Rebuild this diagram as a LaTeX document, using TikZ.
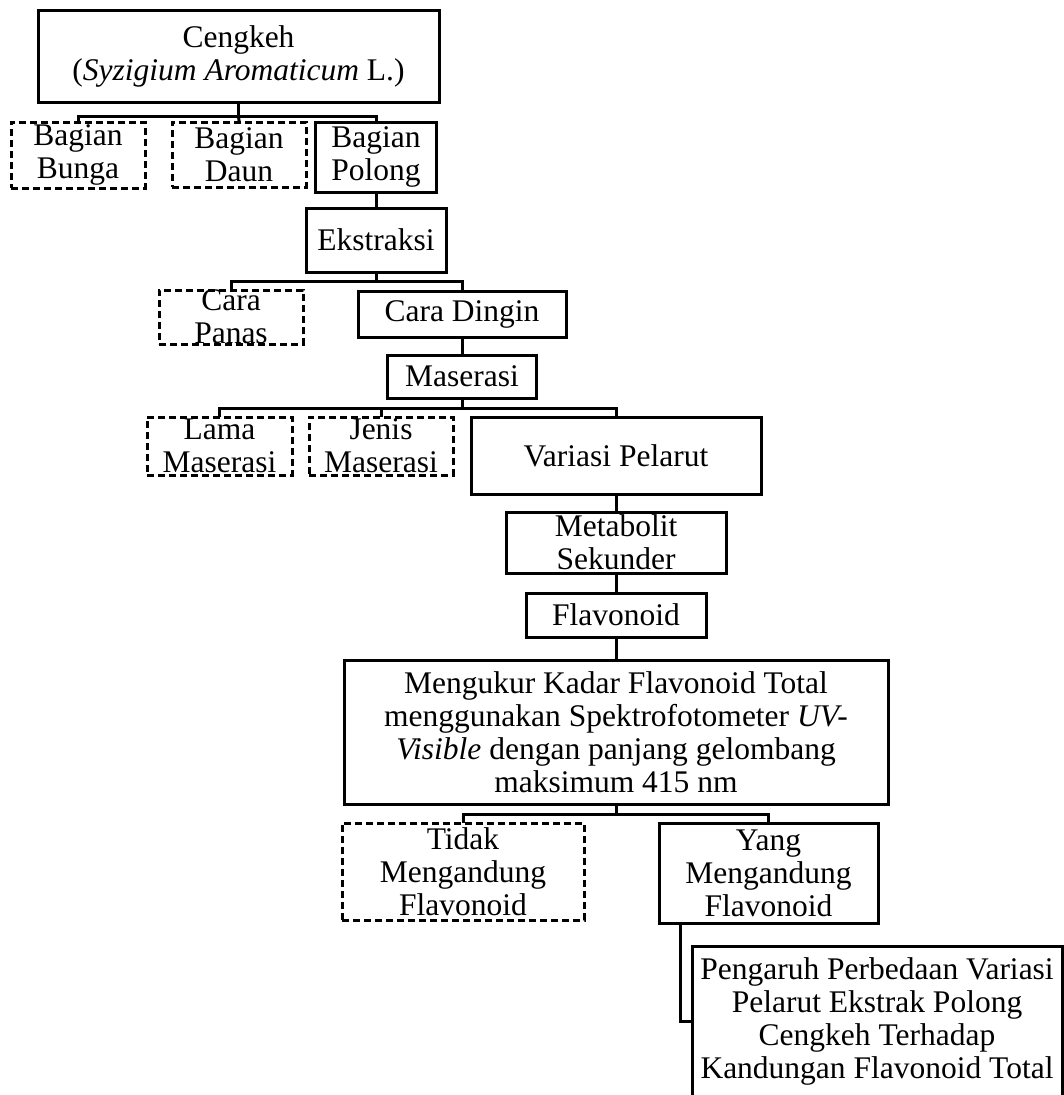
\documentclass[tikz,border=0pt]{standalone}
\usepackage{fontspec}
\setmainfont{Liberation Serif}
\usetikzlibrary{calc}

\tikzset{
  box/.style 2 args={draw, line width=3pt, inner sep=0pt, minimum width=#1pt, minimum height=#2pt},
  dbox/.style 2 args={box={#1}{#2}, dash pattern=on 7pt off 4pt},
  txt/.style={font=\fontsize{31.5}{33}\selectfont, align=center, inner sep=0pt},
  link/.style={line width=3pt, line cap=rect},
}

\begin{document}
\begin{tikzpicture}[x=1pt,y=-1pt]
\useasboundingbox (0,0) rectangle (1064,1095);
\clip (0,0) rectangle (1064,1095);
% boxes
\node[box={401}{92}, label={[txt]center:{Cengkeh\\(\textit{Syzigium Aromaticum} L.)}}] (ceng) at (238.5,56) {};
\node[dbox={134}{66}, label={[txt]center:{Bagian\\Bunga}}] (bunga) at (78,155) {};
\node[dbox={134}{65}, label={[txt]center:{Bagian\\Daun}}] (daun) at (239,154.5) {};
\node[box={121}{70}, label={[txt]center:{Bagian\\Polong}}] (polong) at (376,157) {};
\node[box={140}{64}, label={[txt]center:{Ekstraksi}}] (ekstr) at (376,240) {};
\node[dbox={144}{54}, label={[txt]center:{Cara\\Panas}}] (panas) at (231,317) {};
\node[box={208}{46}, label={[txt]center:{Cara Dingin}}] (dingin) at (462,314) {};
\node[box={149}{43}, label={[txt]center:{Maserasi}}] (maser) at (462,376.5) {};
\node[dbox={145}{58}, label={[txt]center:{Lama\\Maserasi}}] (lama) at (219.5,446) {};
\node[dbox={144}{58}, label={[txt]center:{Jenis\\Maserasi}}] (jenis) at (381,446) {};
\node[box={290}{77}, label={[txt]center:{Variasi Pelarut}}] (variasi) at (616,455.5) {};
\node[box={220}{61}, label={[txt]center:{Metabolit\\Sekunder}}] (metab) at (616,542.5) {};
\node[box={180}{44}, label={[txt]center:{Flavonoid}}] (flavo) at (616,615) {};
\node[box={544}{144}, label={[txt]center:{Mengukur Kadar Flavonoid Total\\menggunakan Spektrofotometer \textit{UV-}\\\textit{Visible} dengan panjang gelombang\\maksimum 415 nm}}] (ukur) at (616,732) {};
\node[dbox={242}{97}, label={[txt]center:{Tidak\\Mengandung\\Flavonoid}}] (tidak) at (463,871.5) {};
\node[box={219}{100}, label={[txt]center:{Yang\\Mengandung\\Flavonoid}}] (yang) at (768.5,873) {};
\node[box={370}{150}, label={[txt]center:{Pengaruh Perbedaan Variasi\\Pelarut Ekstrak Polong\\Cengkeh Terhadap\\Kandungan Flavonoid Total}}] (peng) at (877,1021) {};
% connectors
\coordinate (j1) at ($(ceng.south)+(0,13)$);
\draw[link] (ceng.south) -- (j1);
\draw[link] (j1) -| (bunga.north);
\draw[link] (j1) -- (daun.north);
\draw[link] (j1) -| (polong.north);
\draw[link] (polong.south) -- (ekstr.north);
\coordinate (j2) at ($(ekstr.south)+(0,8)$);
\draw[link] (ekstr.south) -- (j2);
\draw[link] (j2) -| (panas.north);
\draw[link] (j2) -| (dingin.north);
\draw[link] (dingin.south) -- (maser.north);
\coordinate (j3) at ($(maser.south)+(0,9)$);
\draw[link] (maser.south) -- (j3);
\draw[link] (j3) -| (lama.north);
\draw[link] (j3) -| (jenis.north);
\draw[link] (j3) -| (variasi.north);
\draw[link] (variasi.south) -- (metab.north);
\draw[link] (metab.south) -- (flavo.north);
\draw[link] (flavo.south) -- (ukur.north);
\coordinate (j4) at ($(ukur.south)+(0,9)$);
\draw[link] (ukur.south) -- (j4);
\draw[link] (j4) -| (tidak.north);
\draw[link] (j4) -| (yang.north);
\draw[link] ($(yang.south west)+(23,0)$) |- (peng.west);
\end{tikzpicture}
\end{document}
